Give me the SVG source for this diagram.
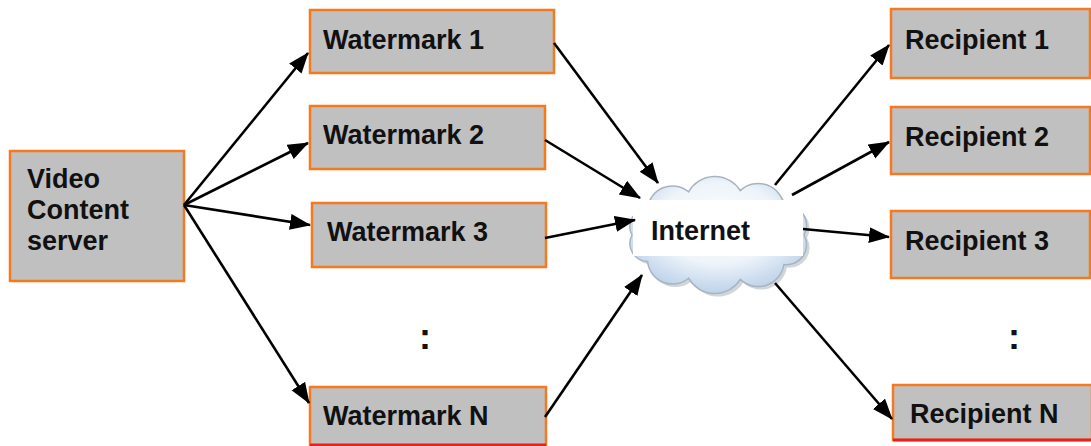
<svg xmlns="http://www.w3.org/2000/svg" width="1091" height="446" viewBox="0 0 1091 446">
  <style>
    .box { fill: #c0c0c0; stroke: #f5791f; stroke-width: 2.5; }
    .lbl { font-family: "Liberation Sans", Arial, sans-serif; font-weight: bold; font-size: 27px; fill: #111; }
    .dots { font-family: "Liberation Sans", Arial, sans-serif; font-weight: bold; font-size: 36px; fill: #111; }
    .edge { stroke: #000; stroke-width: 2.6; fill: none; marker-end: url(#arrow); }
  </style>
  <defs>
    <marker id="arrow" markerUnits="userSpaceOnUse" markerWidth="22" markerHeight="18" refX="20" refY="8" orient="auto">
      <path d="M0,0 L21,8 L0,16 z" fill="#000"/>
    </marker>
    <radialGradient id="cloudFill" cx="0.5" cy="0.4" r="0.62">
      <stop offset="0" stop-color="#ffffff"/>
      <stop offset="0.55" stop-color="#eef4fa"/>
      <stop offset="1" stop-color="#b9cfe8"/>
    </radialGradient>
    <path id="cloudShape" d="M632,235 A18,18 0 0 1 647.6,208.6 A25,25 0 0 1 688.6,191.8 A30,30 0 0 1 740.3,190.6 A26,26 0 0 1 783.9,205.4 A20,20 0 0 1 804,235 A20,20 0 0 1 783.9,264.6 A26,26 0 0 1 740.3,279.4 A30,30 0 0 1 688.6,278.2 A25,25 0 0 1 647.6,261.4 A18,18 0 0 1 632,235 Z"/>
  </defs>

  <!-- source -->
  <g id="video-server">
    <rect class="box" x="10" y="151" width="174" height="130"/>
    <text class="lbl" x="27" y="188">Video</text>
    <text class="lbl" x="27" y="219">Content</text>
    <text class="lbl" x="27" y="250">server</text>
  </g>

  <!-- watermark stage -->
  <g id="watermark-1">
    <rect class="box" x="310" y="10" width="244" height="63"/>
    <text class="lbl" x="323" y="49">Watermark 1</text>
  </g>
  <g id="watermark-2">
    <rect class="box" x="310" y="106" width="235" height="63"/>
    <text class="lbl" x="323" y="144">Watermark 2</text>
  </g>
  <g id="watermark-3">
    <rect class="box" x="312" y="203" width="234" height="64"/>
    <text class="lbl" x="327" y="241">Watermark 3</text>
  </g>
  <text class="dots" x="419" y="349">:</text>
  <g id="watermark-n">
    <rect class="box" x="310" y="387" width="236" height="62"/>
    <line x1="310" y1="445" x2="546" y2="445" stroke="#e8201a" stroke-width="3"/>
    <text class="lbl" x="323" y="425">Watermark N</text>
  </g>

  <!-- network -->
  <g id="internet">
    <use href="#cloudShape" fill="#9aa3ad" opacity="0.45" transform="translate(3,3)"/>
    <use href="#cloudShape" fill="url(#cloudFill)" stroke="#a9b4c0" stroke-width="1.5"/>
    <rect x="633" y="200" width="170" height="56" fill="#ffffff"/>
    <text class="lbl" x="651" y="240" font-size="26">Internet</text>
  </g>

  <!-- recipients -->
  <g id="recipient-1">
    <rect class="box" x="891" y="9" width="199" height="69"/>
    <text class="lbl" x="905" y="49">Recipient 1</text>
  </g>
  <g id="recipient-2">
    <rect class="box" x="891" y="107" width="199" height="67"/>
    <text class="lbl" x="905" y="146">Recipient 2</text>
  </g>
  <g id="recipient-3">
    <rect class="box" x="891" y="211" width="199" height="67"/>
    <text class="lbl" x="905" y="250">Recipient 3</text>
  </g>
  <text class="dots" x="1008" y="349">:</text>
  <g id="recipient-n">
    <rect class="box" x="893" y="385" width="199" height="55"/>
    <line x1="893" y1="440" x2="1091" y2="440" stroke="#e8201a" stroke-width="3"/>
    <text class="lbl" x="910" y="423">Recipient N</text>
  </g>

  <!-- connectors -->
  <g id="connectors">
    <line class="edge" x1="184" y1="205" x2="308" y2="53"/>
    <line class="edge" x1="184" y1="205" x2="308" y2="143"/>
    <line class="edge" x1="184" y1="205" x2="310" y2="225"/>
    <line class="edge" x1="184" y1="205" x2="309" y2="403"/>
    <line class="edge" x1="554" y1="43" x2="658" y2="183"/>
    <line class="edge" x1="545" y1="140" x2="640" y2="198"/>
    <line class="edge" x1="545" y1="238" x2="635" y2="220"/>
    <line class="edge" x1="545" y1="417" x2="642" y2="275"/>
    <line class="edge" x1="775" y1="185" x2="889" y2="45"/>
    <line class="edge" x1="792" y1="195" x2="889" y2="142"/>
    <line class="edge" x1="803" y1="229" x2="889" y2="237"/>
    <line class="edge" x1="775" y1="283" x2="892" y2="419"/>
  </g>
</svg>
